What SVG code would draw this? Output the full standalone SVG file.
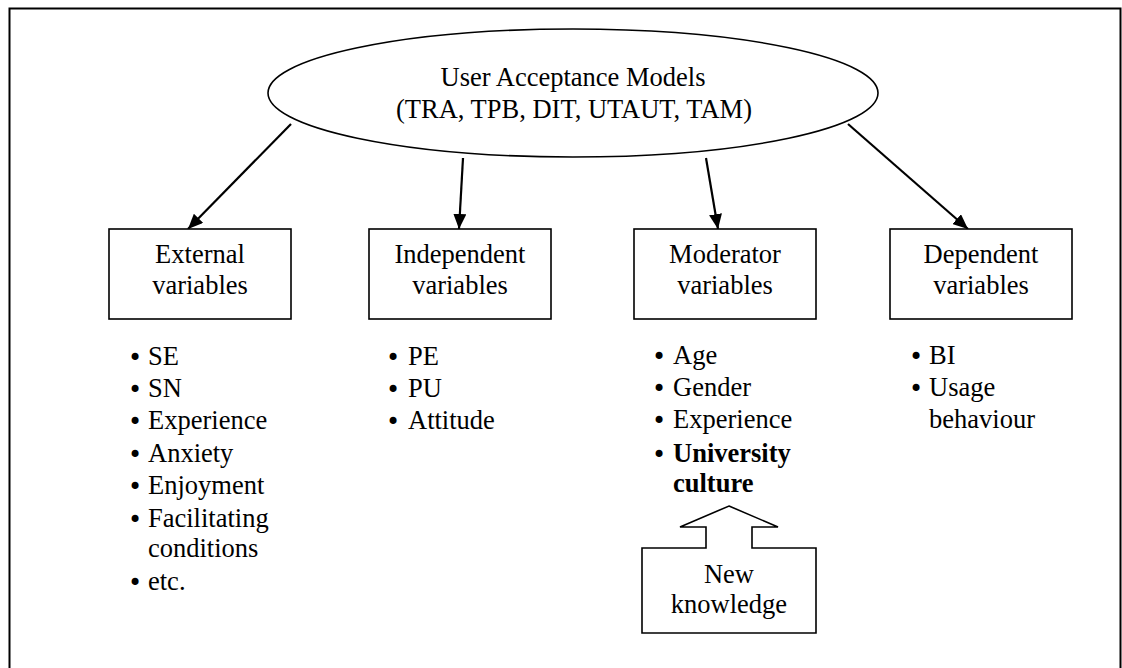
<svg xmlns="http://www.w3.org/2000/svg" width="1122" height="668" viewBox="0 0 1122 668">
  <defs>
    <marker id="arrowhead" viewBox="0 0 15 13" refX="15" refY="6.5" markerWidth="15" markerHeight="13" markerUnits="userSpaceOnUse" orient="auto">
      <path d="M0,0 L15,6.5 L0,13 Z" fill="#000"/>
    </marker>
  </defs>
  <style>
    text { font-family: "Liberation Serif", "Times New Roman", serif; font-size: 26.5px; fill: #000; }
    .c { text-anchor: middle; }
    .b { font-weight: bold; }
    .dot { font-family: "DejaVu Sans", sans-serif; font-size: 24px; font-weight: normal; }
    .box { fill: #fff; stroke: #000; stroke-width: 1.6; }
    .link { stroke: #000; stroke-width: 2.2; fill: none; marker-end: url(#arrowhead); }
  </style>

  <!-- page frame -->
  <rect x="9.5" y="8.5" width="1111" height="680" fill="#fff" stroke="#000" stroke-width="2"/>

  <!-- model ellipse -->
  <g id="models">
    <ellipse cx="573" cy="93" rx="305" ry="64" class="box"/>
    <text x="573" y="86" class="c">User Acceptance Models</text>
    <text x="574" y="118" class="c">(TRA, TPB, DIT, UTAUT, TAM)</text>
  </g>

  <!-- connectors -->
  <g id="connectors">
    <line x1="291" y1="124" x2="188" y2="229" class="link"/>
    <line x1="463" y1="158" x2="459" y2="229" class="link"/>
    <line x1="706" y1="158" x2="718" y2="229" class="link"/>
    <line x1="848" y1="124" x2="968" y2="229" class="link"/>
  </g>

  <!-- variable groups; each list item is one text: bullet tspan + label tspan -->
  <g id="external">
    <rect x="109" y="229" width="182" height="90" class="box"/>
    <text x="200" y="263" class="c">External</text>
    <text x="200" y="294" class="c">variables</text>
    <text x="128" y="366"><tspan class="dot">•</tspan><tspan x="148" dy="-1">SE</tspan></text>
    <text x="128" y="398"><tspan class="dot">•</tspan><tspan x="148" dy="-1">SN</tspan></text>
    <text x="128" y="430"><tspan class="dot">•</tspan><tspan x="148" dy="-1">Experience</tspan></text>
    <text x="128" y="463"><tspan class="dot">•</tspan><tspan x="148" dy="-1">Anxiety</tspan></text>
    <text x="128" y="495"><tspan class="dot">•</tspan><tspan x="148" dy="-1">Enjoyment</tspan></text>
    <text x="128" y="528"><tspan class="dot">•</tspan><tspan x="148" dy="-1">Facilitating</tspan><tspan x="148" dy="30">conditions</tspan></text>
    <text x="128" y="591"><tspan class="dot">•</tspan><tspan x="148" dy="-1">etc.</tspan></text>
  </g>

  <g id="independent">
    <rect x="369" y="229" width="182" height="90" class="box"/>
    <text x="460" y="263" class="c">Independent</text>
    <text x="460" y="294" class="c">variables</text>
    <text x="386" y="366"><tspan class="dot">•</tspan><tspan x="408" dy="-1">PE</tspan></text>
    <text x="386" y="398"><tspan class="dot">•</tspan><tspan x="408" dy="-1">PU</tspan></text>
    <text x="386" y="430"><tspan class="dot">•</tspan><tspan x="408" dy="-1">Attitude</tspan></text>
  </g>

  <g id="moderator">
    <rect x="634" y="229" width="182" height="90" class="box"/>
    <text x="725" y="263" class="c">Moderator</text>
    <text x="725" y="294" class="c">variables</text>
    <text x="652" y="365"><tspan class="dot">•</tspan><tspan x="673" dy="-1">Age</tspan></text>
    <text x="652" y="397"><tspan class="dot">•</tspan><tspan x="673" dy="-1">Gender</tspan></text>
    <text x="652" y="429"><tspan class="dot">•</tspan><tspan x="673" dy="-1">Experience</tspan></text>
    <text x="652" y="463"><tspan class="dot">•</tspan><tspan x="673" dy="-1" class="b">University</tspan><tspan x="673" dy="30" class="b">culture</tspan></text>
  </g>

  <g id="dependent">
    <rect x="890" y="229" width="182" height="90" class="box"/>
    <text x="981" y="263" class="c">Dependent</text>
    <text x="981" y="294" class="c">variables</text>
    <text x="909" y="365"><tspan class="dot">•</tspan><tspan x="929" dy="-1">BI</tspan></text>
    <text x="909" y="397"><tspan class="dot">•</tspan><tspan x="929" dy="-1">Usage</tspan><tspan x="929" dy="32">behaviour</tspan></text>
  </g>

  <!-- new knowledge callout pointing up at the moderator list -->
  <g id="new-knowledge">
    <polygon points="729,506 778,527 752,527 752,548 816,548 816,633 642,633 642,548 706,548 706,527 680,527" class="box"/>
    <text x="729" y="583" class="c">New</text>
    <text x="729" y="613" class="c">knowledge</text>
  </g>
</svg>
